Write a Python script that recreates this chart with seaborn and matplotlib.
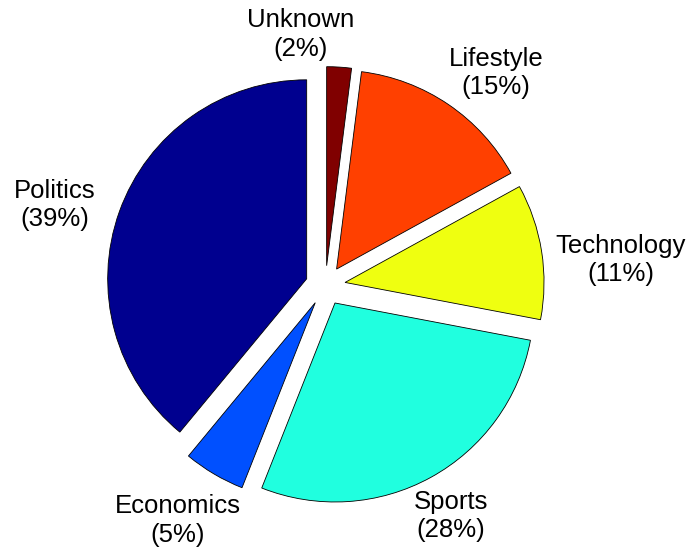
import matplotlib
matplotlib.use("Agg")
import matplotlib.pyplot as plt
import seaborn as sns

# Share of articles per topic, listed counter-clockwise from 12 o'clock
topics = ["Politics", "Economics", "Sports", "Technology", "Lifestyle", "Unknown"]
shares = [39, 5, 28, 11, 15, 2]
colors = ["#00008F", "#0050FF", "#20FFDF", "#EFFF10", "#FF4000", "#800000"]

# Label anchors, in units of the pie radius
label_x = [-1.359, -0.741, 0.631, 1.484, 0.857, -0.123]
label_y = [0.405, -1.179, -1.158, 0.128, 1.068, 1.260]

sns.set_theme(style="white")
plt.rcParams["font.family"] = ["Liberation Sans", "DejaVu Sans"]

fig = plt.figure(figsize=(6.9, 5.51), dpi=100)
ax = fig.add_axes([0, 0, 1, 1])

palette = sns.color_palette(colors)
ax.pie(
    shares,
    colors=palette,
    explode=[0.1] * len(shares),
    startangle=90,
    counterclock=True,
    radius=1.0,
    wedgeprops=dict(edgecolor="black", linewidth=0.6),
)

for name, pct, x, y in zip(topics, shares, label_x, label_y):
    ax.text(x, y, f"{name}\n({pct}%)", ha="center", va="center",
            multialignment="center", fontsize=18.5, linespacing=1.25,
            color="black")

ax.set_xlim(-1.635, 1.832)
ax.set_ylim(-1.334, 1.435)
ax.set_aspect("equal")
ax.axis("off")

fig.savefig("out.png", dpi=100, facecolor="white")
